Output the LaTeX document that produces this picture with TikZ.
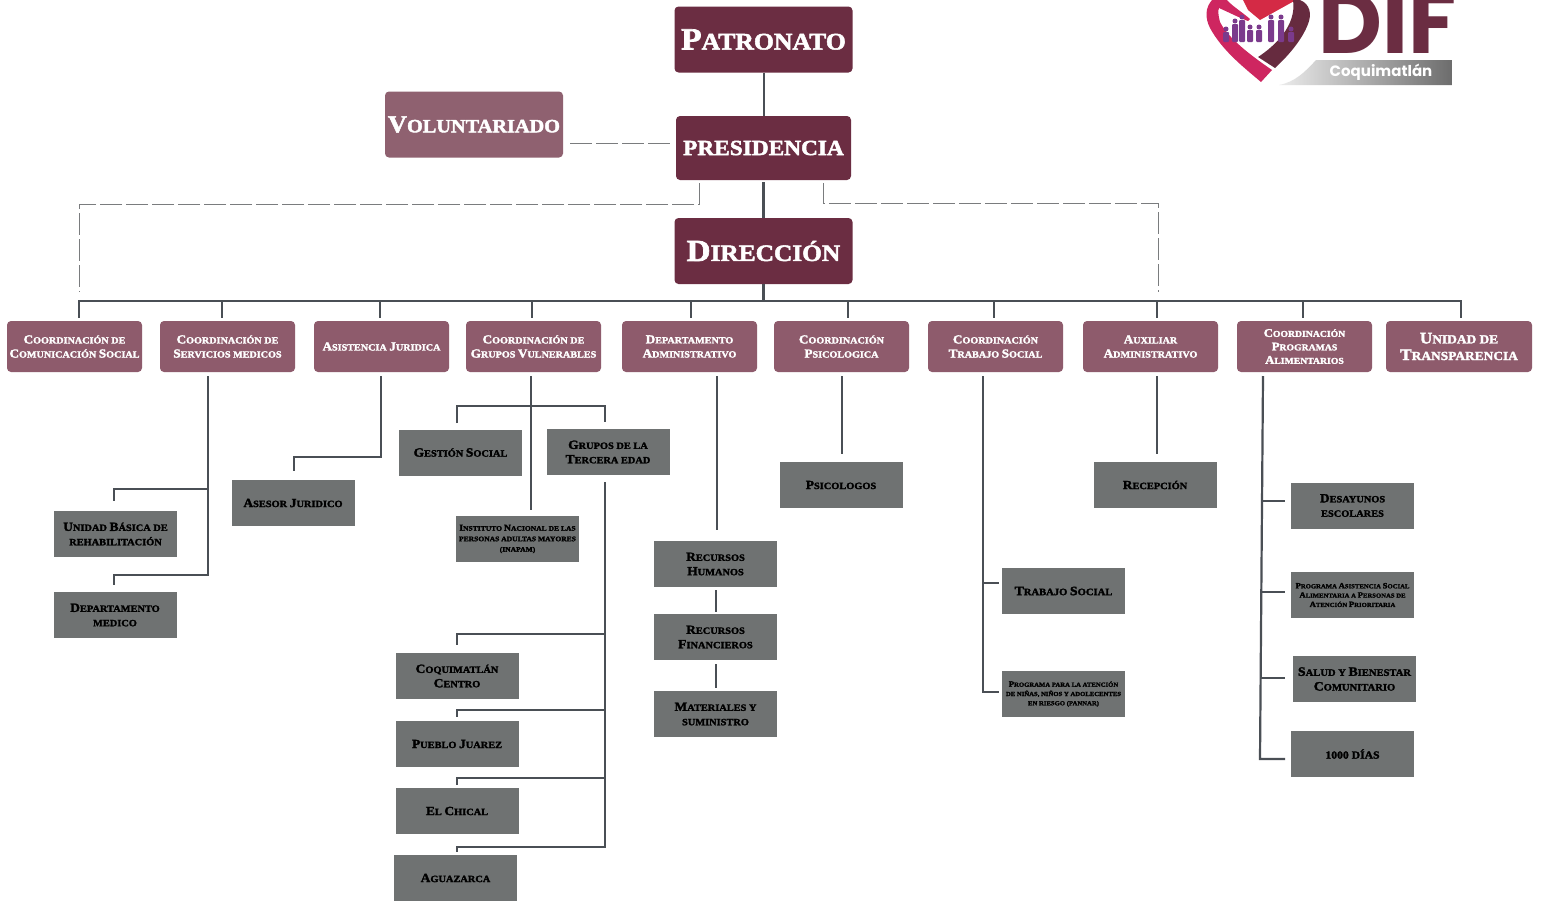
\documentclass[tikz,border=0pt]{standalone}
\usepackage{fontspec}
\setmainfont{Liberation Serif}[BoldFeatures={FakeBold=2.2,FakeStretch=1.08}]
\newfontfamily\logofont{Poppins}
\usetikzlibrary{calc}
\definecolor{dkm}{HTML}{6B2D42}
\definecolor{ltm}{HTML}{8F6170}
\definecolor{rowm}{HTML}{8E5B6C}
\definecolor{gbox}{HTML}{6F7272}
\definecolor{ln}{HTML}{4A4F55}
\definecolor{dsh}{HTML}{7A7C7E}
\definecolor{lpink}{HTML}{CE2660}
\definecolor{lred}{HTML}{D42A45}
\definecolor{lpur}{HTML}{7B3A8C}
\newdimen\bs
\newcommand\fs[1]{\bs=#1pt\fontsize{\bs}{1.5\bs}\selectfont\bfseries}
\newcommand\I[1]{{\fontsize{1.3\bs}{1.5\bs}\selectfont #1}}
\tikzset{
  x=1pt,y=-1pt,
  topbox/.style={fill=dkm,rounded corners=4pt,minimum width=178pt,minimum height=66pt,inner sep=0pt,outer sep=0pt,text=white,align=center,font=\fs{23.8}},
  rowbox/.style={fill=rowm,rounded corners=4pt,minimum width=135pt,minimum height=51pt,inner sep=0pt,outer sep=0pt,text=white,align=center,font=\fs{9.4}},
  subbox/.style={fill=gbox,minimum width=123pt,minimum height=46pt,inner sep=0pt,outer sep=0pt,text=black,align=center,font=\fs{9.6}},
  conn/.style={draw=ln,line width=2.2pt},
  dashedline/.style={draw=dsh,line width=0.9pt,dash pattern=on 22pt off 4pt},
}
\begin{document}
\begin{tikzpicture}
\useasboundingbox (0,0) rectangle (1541,900);
\fill[white] (0,0) rectangle (1541,900);
% top boxes
\node[topbox] (pat) at (763.5,39.5) {\I{P}ATRONATO};
\node[topbox,minimum width=175pt,minimum height=64pt,font=\fs{21.6}] (pre) at (763.5,148) {PRESIDENCIA};
\node[topbox,fill=ltm,font=\fs{18.8}] (vol) at (474,124.5) {\I{V}OLUNTARIADO};
\node[topbox,font=\fs{23.5}] (dir) at (763.5,251) {\I{D}IRECCIÓN};
% row
\node[rowbox] (r1) at (74.5,346.5) {\I{C}OORDINACIÓN DE\\\I{C}OMUNICACIÓN \I{S}OCIAL};
\node[rowbox] (r2) at (227.5,346.5) {\I{C}OORDINACIÓN DE\\\I{S}ERVICIOS MEDICOS};
\node[rowbox] (r3) at (381.5,346.5) {\I{A}SISTENCIA \I{J}URIDICA};
\node[rowbox] (r4) at (533.5,346.5) {\I{C}OORDINACIÓN DE\\\I{G}RUPOS \I{V}ULNERABLES};
\node[rowbox] (r5) at (689.5,346.5) {\I{D}EPARTAMENTO\\\I{A}DMINISTRATIVO};
\node[rowbox] (r6) at (841.5,346.5) {\I{C}OORDINACIÓN\\\I{P}SICOLOGICA};
\node[rowbox] (r7) at (995.5,346.5) {\I{C}OORDINACIÓN\\\I{T}RABAJO \I{S}OCIAL};
\node[rowbox] (r8) at (1150.5,346.5) {\I{A}UXILIAR\\\I{A}DMINISTRATIVO};
\node[rowbox,font=\fs{9}] (r9) at (1304.5,346.5) {\I{C}OORDINACIÓN\\\I{P}ROGRAMAS\\\I{A}LIMENTARIOS};
\node[rowbox,minimum width=146pt,font=\fs{12.4}] (r10) at (1459,346.5) {\I{U}NIDAD DE\\[-2pt]\I{T}RANSPARENCIA};
% sub boxes
\node[subbox] (s1) at (115.5,534) {\I{U}NIDAD \I{B}ÁSICA DE\\REHABILITACIÓN};
\node[subbox] (s2) at (115,615) {\I{D}EPARTAMENTO\\MEDICO};
\node[subbox] (s3) at (293,503) {\I{A}SESOR \I{J}URIDICO};
\node[subbox] (s4) at (460.5,452.5) {\I{G}ESTIÓN \I{S}OCIAL};
\node[subbox] (s5) at (608,452) {\I{G}RUPOS DE LA\\\I{T}ERCERA EDAD};
\node[subbox,font=\fs{7}] (s6) at (517.5,539) {\I{I}NSTITUTO \I{N}ACIONAL DE LAS\\PERSONAS ADULTAS MAYORES\\(INAPAM)};
\node[subbox] (s7) at (457,676) {\I{C}OQUIMATLÁN\\\I{C}ENTRO};
\node[subbox] (s8) at (457,744) {\I{P}UEBLO \I{J}UAREZ};
\node[subbox] (s9) at (457,811) {\I{E}L \I{C}HICAL};
\node[subbox] (s10) at (455.5,878) {\I{A}GUAZARCA};
\node[subbox] (s11) at (715.5,564) {\I{R}ECURSOS\\\I{H}UMANOS};
\node[subbox] (s12) at (715.5,637) {\I{R}ECURSOS\\\I{F}INANCIEROS};
\node[subbox] (s13) at (715.5,714) {\I{M}ATERIALES Y\\SUMINISTRO};
\node[subbox] (s14) at (841,485) {\I{P}SICOLOGOS};
\node[subbox] (s15) at (1155,485) {\I{R}ECEPCIÓN};
\node[subbox,font=\fs{9.8}] (s16) at (1063.5,591) {\I{T}RABAJO \I{S}OCIAL};
\node[subbox,font=\fs{6.2}] (s17) at (1063.5,694) {\I{P}ROGRAMA PARA LA ATENCIÓN\\DE NIÑAS, NIÑOS Y ADOLECENTES\\EN RIESGO (PANNAR)};
\node[subbox] (s18) at (1352.5,505.5) {\I{D}ESAYUNOS\\ESCOLARES};
\node[subbox,font=\fs{6.2}] (s19) at (1352.5,595) {\I{P}ROGRAMA \I{A}SISTENCIA \I{S}OCIAL\\\I{A}LIMENTARIA A \I{P}ERSONAS DE\\\I{A}TENCIÓN \I{P}RIORITARIA};
\node[subbox,font=\fs{9.8}] (s20) at (1354.5,679) {\I{S}ALUD Y \I{B}IENESTAR\\\I{C}OMUNITARIO};
\node[subbox,font=\fs{10.8}] (s21) at (1352.5,754) {1000 DÍAS};
% free-end coordinates
\coordinate (bus) at (763.5,301);
\coordinate (dashL) at (699,183);
\coordinate (dashLc) at (699,204);
\coordinate (dashLe) at (79,204);
\coordinate (dashLf) at (79,292);
\coordinate (dashR) at (823,183);
\coordinate (dashRc) at (823,203);
\coordinate (dashRe) at (1158,203);
\coordinate (dashRf) at (1158,292);
\coordinate (b1) at (79,301);\coordinate (b2) at (222,301);\coordinate (b3) at (380,301);
\coordinate (b4) at (532,301);\coordinate (b5) at (691,301);\coordinate (b6) at (848,301);
\coordinate (b7) at (994,301);\coordinate (b8) at (1157,301);\coordinate (b9) at (1303,301);
\coordinate (b10) at (1461,301);
\coordinate (d2) at (208,376);\coordinate (d3) at (381,376);\coordinate (d4) at (531,376);
\coordinate (d5) at (717,376);\coordinate (d6) at (842,376);\coordinate (d7) at (983,376);
\coordinate (d8) at (1157,376);\coordinate (d9) at (1263,376);
% connectors: top
\draw[conn] (pat.south -| 764,0) -- (pre.north -| 764,0);
\draw[conn] (763.5,182) -- (dir.north -| 763.5,0);
\draw[conn] (dir.south) -- (bus);
\draw[dashedline,shorten >=6pt] (570,143) -- (pre.west |- 0,143);
\draw[dashedline] (dashL) -- (dashLc) -- (dashLe) -- (dashLf);
\draw[dashedline] (dashR) -- (dashRc) -- (dashRe) -- (dashRf);
\draw[conn,line cap=rect] (b1) -- (b10);
\foreach \i in {1,...,10}{\draw[conn] (b\i) -- ++(0,17);}
% servicios medicos
\draw[conn] (d2) -- (208,575) -- (114,575) -- (114,585);
\draw[conn] (208,489) -- (114,489) -- (114,501);
% asistencia
\draw[conn] (d3) -- (381,457) -- (294,457) -- (294,471);
% grupos
\draw[conn] (d4) -- (531,510);
\draw[conn] (457,423) -- (457,406) -- (605,406) -- (605,422);
\draw[conn] (605,482) -- (605,847) -- (457,847) -- (457,852);
\draw[conn] (605,634) -- (457,634) -- (457,645);
\draw[conn] (605,710) -- (457,710) -- (457,717);
\draw[conn] (605,778) -- (457,778) -- (457,785);
% departamento
\draw[conn] (d5) -- (717,530);
\draw[conn] (716,590) -- (716,612);
\draw[conn] (716,664) -- (716,688);
% psicologos / recepcion
\draw[conn] (d6) -- (842,454);
\draw[conn] (d8) -- (1157,454);
% trabajo social
\draw[conn] (d7) -- (983,692) -- (999,692);
\draw[conn] (983,583) -- (999,583);
% alimentarios
\draw[conn] (d9) -- (1260,759) -- (1285,759);
\draw[conn] (1262,501) -- (1285,501);
\draw[conn] (1262,592) -- (1285,592);
\draw[conn] (1261,678) -- (1285,678);
% logo
\fill[lred] (1243,0) -- (1248,10) -- (1260,20) -- (1296,0) -- cycle;
\fill[dkm!95!black] (1300,0) .. controls (1310,4) and (1312,14) .. (1308,24) .. controls (1302,40) and (1288,56) .. (1275,68) -- (1258,57) .. controls (1275,46) and (1297,25) .. (1293,0) -- cycle;
\fill[lpink] (1212,0) .. controls (1205,8) and (1205,18) .. (1210,28) .. controls (1222,50) and (1242,66) .. (1261,82) -- (1272,70) .. controls (1250,55) and (1228,38) .. (1220,22) .. controls (1218,15) and (1218,10) .. (1219,8) .. controls (1228,12) and (1240,18) .. (1248,21) -- (1250,19) .. controls (1242,12) and (1232,6) .. (1227,0) -- cycle;
\foreach \px/\ph in {1226/8,1235/16,1242/20,1250/10,1259/10,1271/20,1281/20,1291/8}{
  \fill[lpur] (\px,{41-\ph-4}) circle (2.5);
  \fill[lpur,rounded corners=1pt] (\px-3,{41-\ph-1}) rectangle (\px+3,42);
}
\node[inner sep=0pt,outer sep=0pt,text=dkm] (diflogo) at (1387.5,23) {\fontsize{88}{88}\logofont\bfseries DIF};
\shade[left color=white!85!gray,right color=gray!85!black] (1279,85) .. controls (1295,82) and (1305,72) .. (1316,60) -- (1452,60) -- (1452,85) -- cycle;
\node[inner sep=0pt,outer sep=0pt,text=white] (difplace) at (1381,72) {\fontsize{15}{15}\logofont\bfseries Coquimatlán};
\end{tikzpicture}
\end{document}
